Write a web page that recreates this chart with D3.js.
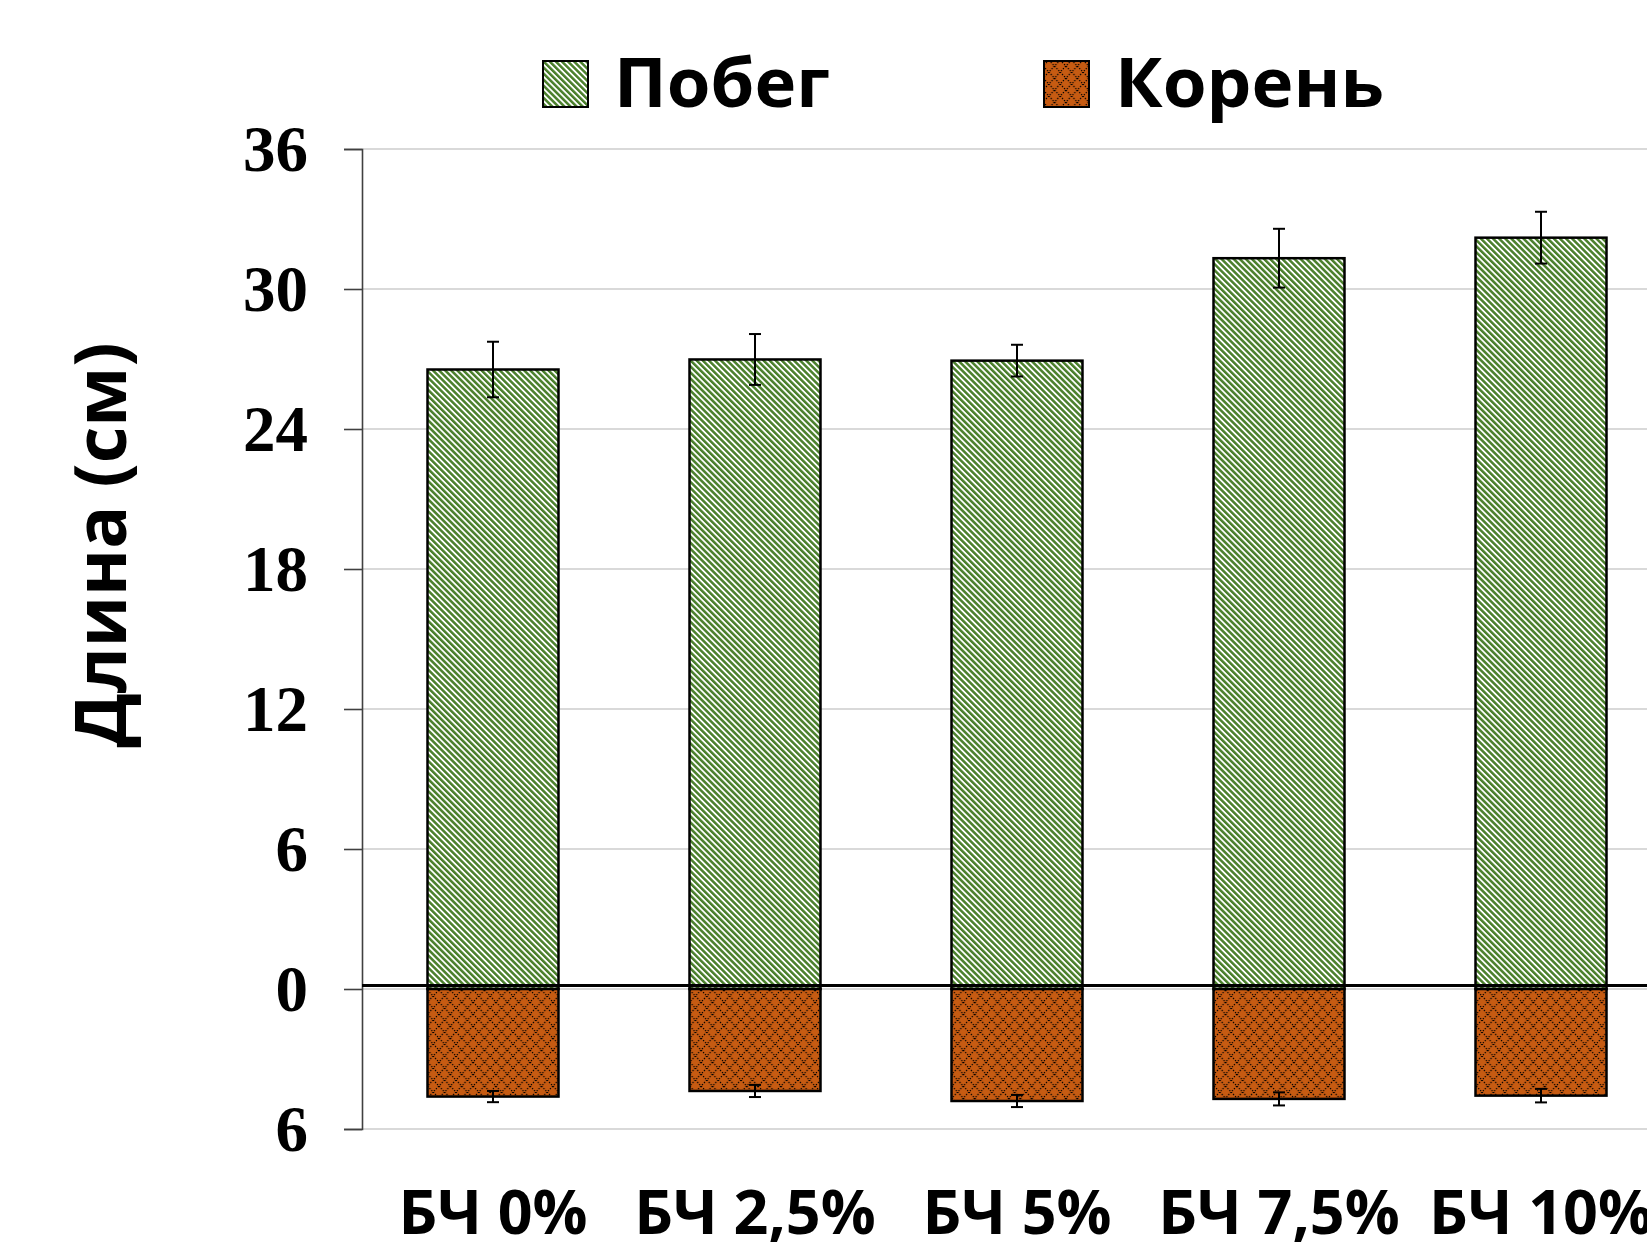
<!DOCTYPE html>
<html>
<head>
<meta charset="utf-8">
<script src="https://cdn.jsdelivr.net/npm/d3@7/dist/d3.min.js"></script>
<style>
  html, body { margin: 0; padding: 0; background: #fff; }
  svg { display: block; }
</style>
</head>
<body>
<div id="chart"></div>
<script>
// Plant length by biochar dose: shoot above zero, root drawn below zero
const categories = ["БЧ 0%", "БЧ 2,5%", "БЧ 5%", "БЧ 7,5%", "БЧ 10%"];
const shootLength = [26.55, 26.98, 26.93, 31.32, 32.2];
const shootError = [1.19, 1.09, 0.68, 1.26, 1.11];
const rootLength = [4.61, 4.37, 4.80, 4.71, 4.57];
const rootError = [0.24, 0.26, 0.26, 0.28, 0.29];
const yTicks = [-6, 0, 6, 12, 18, 24, 30, 36];
const seriesNames = ["Побег", "Корень"];
const axisTitle = "Длина (см)";

const W = 1647, H = 1252;
const svg = d3.select("#chart").append("svg")
  .attr("width", W).attr("height", H)
  .attr("viewBox", `0 0 ${W} ${H}`);

const defs = svg.append("defs");

// Green downward-diagonal stripes (shoot)
const stripePeriod = 4.3;
const pShoot = defs.append("pattern")
  .attr("id", "pShoot").attr("patternUnits", "userSpaceOnUse")
  .attr("width", stripePeriod).attr("height", 10)
  .attr("patternTransform", "rotate(-45)");
pShoot.append("rect").attr("width", stripePeriod).attr("height", 10).attr("fill", "#ffffff");
pShoot.append("rect").attr("width", stripePeriod * 0.58).attr("height", 10).attr("fill", "#4a7f2b");

// Orange fill with dotted diamond lattice (root)
const pw = 11.4, ph = 12;
const pRoot = defs.append("pattern")
  .attr("id", "pRoot").attr("patternUnits", "userSpaceOnUse")
  .attr("width", pw).attr("height", ph);
pRoot.append("rect").attr("width", pw).attr("height", ph).attr("fill", "#c65b12");
pRoot.append("path")
  .attr("d", `M0,0L${pw},${ph}M${pw},0L0,${ph}`)
  .attr("stroke", "#000").attr("stroke-width", 1.2)
  .attr("stroke-dasharray", "1.3 1.5").attr("fill", "none");

// Scales
const y = d3.scaleLinear().domain([-6, 36]).range([1129, 149]);
const x = d3.scaleBand().domain(categories)
  .range([362, 1672]).paddingInner(0.5).paddingOuter(0.25);
const x0 = 362;

// Gridlines
svg.append("g").selectAll("line").data(yTicks).join("line")
  .attr("x1", x0).attr("x2", W)
  .attr("y1", d => y(d)).attr("y2", d => y(d))
  .attr("stroke", "#d9d9d9").attr("stroke-width", 2);

// Y axis with absolute-value tick labels
const yAxis = d3.axisLeft(y).tickValues(yTicks)
  .tickSize(18).tickPadding(36)
  .tickFormat(d => String(Math.abs(d)));
const gy = svg.append("g").attr("transform", `translate(${x0},0)`).call(yAxis);
gy.select(".domain").attr("stroke", "#404040").attr("stroke-width", 1.6);
gy.selectAll(".tick line").attr("stroke", "#404040").attr("stroke-width", 1.6);
gy.selectAll(".tick text")
  .attr("font-family", "'Liberation Serif', 'Times New Roman', serif")
  .attr("font-weight", "bold").attr("font-size", 65)
  .attr("fill", "#000").attr("dy", "0.33em");

// Shoot bars
svg.append("g").selectAll("rect").data(categories).join("rect")
  .attr("x", d => x(d)).attr("width", x.bandwidth())
  .attr("y", (d, i) => y(shootLength[i]))
  .attr("height", (d, i) => y(0) - y(shootLength[i]))
  .attr("fill", "url(#pShoot)").attr("stroke", "#000").attr("stroke-width", 2.5);

// Root bars (plotted downward)
svg.append("g").selectAll("rect").data(categories).join("rect")
  .attr("x", d => x(d)).attr("width", x.bandwidth())
  .attr("y", y(0))
  .attr("height", (d, i) => y(-rootLength[i]) - y(0))
  .attr("fill", "url(#pRoot)").attr("stroke", "#000").attr("stroke-width", 2.5);

// Zero baseline
svg.append("line")
  .attr("x1", x0).attr("x2", W)
  .attr("y1", y(0) - 3.5).attr("y2", y(0) - 3.5)
  .attr("stroke", "#000").attr("stroke-width", 3);

// Error bars
function errorBars(values, errors, sign) {
  const g = svg.append("g").attr("stroke", "#000").attr("stroke-width", 2);
  categories.forEach((c, i) => {
    const cx = x(c) + x.bandwidth() / 2;
    const lo = y(sign * (values[i] - errors[i]));
    const hi = y(sign * (values[i] + errors[i]));
    g.append("line").attr("x1", cx).attr("x2", cx).attr("y1", lo).attr("y2", hi);
    g.append("line").attr("x1", cx - 6).attr("x2", cx + 6).attr("y1", lo).attr("y2", lo);
    g.append("line").attr("x1", cx - 6).attr("x2", cx + 6).attr("y1", hi).attr("y2", hi);
  });
}
errorBars(shootLength, shootError, 1);
errorBars(rootLength, rootError, -1);

// Category labels
const sansFont = "'Open Sans', 'Noto Sans', 'DejaVu Sans', sans-serif";
svg.append("g").selectAll("text").data(categories).join("text")
  .attr("x", d => x(d) + x.bandwidth() / 2)
  .attr("y", 1234)
  .attr("text-anchor", "middle")
  .attr("font-family", sansFont).attr("font-weight", 700)
  .attr("font-size", 61).attr("fill", "#000")
  .text(d => d);

// Y axis title
svg.append("text")
  .attr("transform", "translate(126,545) rotate(-90)")
  .attr("text-anchor", "middle")
  .attr("font-family", sansFont).attr("font-weight", 700)
  .attr("font-size", 72).attr("fill", "#000")
  .attr("textLength", 405).attr("lengthAdjust", "spacingAndGlyphs")
  .text(axisTitle);

// Legend
const legendItems = [
  { name: seriesNames[0], fill: "url(#pShoot)", x: 543, len: 216 },
  { name: seriesNames[1], fill: "url(#pRoot)", x: 1044, len: 269 }
];
const lg = svg.append("g");
legendItems.forEach(item => {
  lg.append("rect").attr("x", item.x).attr("y", 61)
    .attr("width", 45).attr("height", 46)
    .attr("fill", item.fill).attr("stroke", "#000").attr("stroke-width", 2);
  lg.append("text").attr("x", item.x + 71).attr("y", 107)
    .attr("font-family", sansFont).attr("font-weight", 700)
    .attr("font-size", 68).attr("fill", "#000")
    .attr("textLength", item.len).attr("lengthAdjust", "spacingAndGlyphs")
    .text(item.name);
});
</script>
</body>
</html>
